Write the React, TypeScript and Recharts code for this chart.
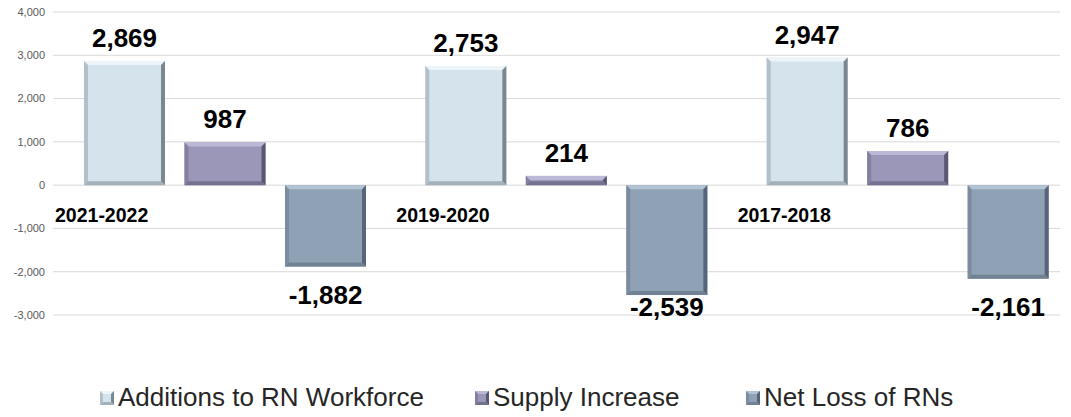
import React from 'react';
import { BarChart, Bar, XAxis, YAxis, CartesianGrid, Legend, LabelList } from 'recharts';

const categories = ['2021-2022', '2019-2020', '2017-2018'];
const additions = [2869, 2753, 2947];
const supplyIncrease = [987, 214, 786];
const netLoss = [-1882, -2539, -2161];
const yTicks = [-3000, -2000, -1000, 0, 1000, 2000, 3000, 4000];
const seriesNames = ['Additions to RN Workforce', 'Supply Increase', 'Net Loss of RNs'];

const data = categories.map((c, i) => ({
  category: c,
  additions: additions[i],
  supply: supplyIncrease[i],
  loss: netLoss[i],
}));

const W = 1071;
const H = 417;
const X_AXIS_H = 1;
const MARGIN = { top: 12, right: 11, bottom: 101, left: 0 };
const Y_AXIS_W = 53;
const Y_MIN = -3000;
const Y_MAX = 4000;
const PLOT_H = H - MARGIN.top - MARGIN.bottom - X_AXIS_H;
const PLOT_W = W - MARGIN.left - MARGIN.right - Y_AXIS_W;
const X_PAD = { left: 1, right: -18 };
const BAND = (PLOT_W - X_PAD.left - X_PAD.right) / categories.length;
const ZERO_Y = MARGIN.top + (Y_MAX / (Y_MAX - Y_MIN)) * PLOT_H;
const PLOT_BOTTOM = MARGIN.top + PLOT_H;
const FONT = '"Liberation Sans", Arial, sans-serif';

type Palette = { fill: string; top: string; left: string; right: string; bottom: string };
const palettes: Palette[] = [
  { fill: '#D5E3EC', top: '#EEF5FA', left: '#B4C0C9', right: '#7A8690', bottom: '#A4B0BA' },
  { fill: '#9A97B8', top: '#BBB8D6', left: '#84819F', right: '#5A5772', bottom: '#74718F' },
  { fill: '#8FA2B5', top: '#B2C3D4', left: '#7A8DA0', right: '#56667A', bottom: '#708294' },
];

const bevelShape = (pal: Palette) => (props: any) => {
  const { x, y, width, height } = props;
  if (width == null || height == null) return null;
  const top = Math.min(y, y + height);
  const h = Math.abs(height);
  const w = width;
  const b = Math.min(4, h / 2, w / 2);
  return (
    <g>
      <rect x={x} y={top} width={w} height={h} fill={pal.fill} />
      <polygon points={`${x},${top} ${x + w},${top} ${x + w - b},${top + b} ${x + b},${top + b}`} fill={pal.top} />
      <polygon points={`${x},${top} ${x + b},${top + b} ${x + b},${top + h - b} ${x},${top + h}`} fill={pal.left} />
      <polygon points={`${x + w},${top} ${x + w},${top + h} ${x + w - b},${top + h - b} ${x + w - b},${top + b}`} fill={pal.right} />
      <polygon points={`${x},${top + h} ${x + b},${top + h - b} ${x + w - b},${top + h - b} ${x + w},${top + h}`} fill={pal.bottom} />
    </g>
  );
};

const valueLabel = (props: any) => {
  const { x, y, width, height, value } = props;
  if (value == null) return null;
  const top = Math.min(y, y + height);
  const bottom = Math.max(y, y + height);
  const cx = x + width / 2;
  const by = value >= 0 ? top - 14 : Math.min(bottom + 37, PLOT_BOTTOM + 1);
  return (
    <text x={cx} y={by} textAnchor="middle" fontFamily={FONT} fontWeight="bold" fontSize={26} fill="#000">
      {Number(value).toLocaleString('en-US')}
    </text>
  );
};

const renderCategoryTick = (props: any) => {
  const { x, payload } = props;
  return (
    <text x={x - BAND / 2 + 1} y={ZERO_Y + 37} textAnchor="start" fontFamily={FONT} fontWeight="bold" fontSize={19.5} fill="#000">
      {payload.value}
    </text>
  );
};

const legendX = [100, 475, 746];

const renderLegend = () => {
  return (
    <svg width={W} height={45} style={{ display: 'block' }}>
      {seriesNames.map((name, i) => {
        const pal = palettes[i];
        const ix = legendX[i];
        const iy = 19;
        const s = 14;
        const b = 3;
        return (
          <g key={name}>
            <rect x={ix} y={iy} width={s} height={s} fill={pal.fill} />
            <polygon points={`${ix},${iy} ${ix + s},${iy} ${ix + s - b},${iy + b} ${ix + b},${iy + b}`} fill={pal.top} />
            <polygon points={`${ix},${iy} ${ix + b},${iy + b} ${ix + b},${iy + s - b} ${ix},${iy + s}`} fill={pal.left} />
            <polygon points={`${ix + s},${iy} ${ix + s},${iy + s} ${ix + s - b},${iy + s - b} ${ix + s - b},${iy + b}`} fill={pal.right} />
            <polygon points={`${ix},${iy + s} ${ix + b},${iy + s - b} ${ix + s - b},${iy + s - b} ${ix + s},${iy + s}`} fill={pal.bottom} />
            <text x={ix + 18} y={34} fontFamily={FONT} fontSize={26} fill="#262626">
              {name}
            </text>
          </g>
        );
      })}
    </svg>
  );
};

export default function App() {
  return (
    <div style={{ position: 'absolute', left: 0, top: 0, width: W, height: H, background: '#fff' }}>
      <BarChart width={W} height={H} data={data} margin={MARGIN} barSize={81} barGap={19.5}>
        <CartesianGrid vertical={false} stroke="#D9D9D9" strokeWidth={1} />
        <XAxis
          dataKey="category"
          height={X_AXIS_H}
          axisLine={false}
          tickLine={false}
          padding={X_PAD}
          tick={renderCategoryTick}
          interval={0}
        />
        <YAxis
          width={Y_AXIS_W}
          domain={[Y_MIN, Y_MAX]}
          ticks={yTicks}
          axisLine={false}
          tickLine={false}
          tick={{ fontFamily: FONT, fontSize: 11, fill: '#595959' }}
          tickFormatter={(v: number) => v.toLocaleString('en-US')}
        />
        <Legend
          layout="horizontal"
          verticalAlign="middle"
          align="center"
          wrapperStyle={{ top: 372, left: 0, width: W }}
          content={renderLegend}
        />
        <Bar dataKey="additions" name={seriesNames[0]} fill={palettes[0].fill} shape={bevelShape(palettes[0])} isAnimationActive={false}>
          <LabelList dataKey="additions" content={valueLabel} />
        </Bar>
        <Bar dataKey="supply" name={seriesNames[1]} fill={palettes[1].fill} shape={bevelShape(palettes[1])} isAnimationActive={false}>
          <LabelList dataKey="supply" content={valueLabel} />
        </Bar>
        <Bar dataKey="loss" name={seriesNames[2]} fill={palettes[2].fill} shape={bevelShape(palettes[2])} isAnimationActive={false}>
          <LabelList dataKey="loss" content={valueLabel} />
        </Bar>
      </BarChart>
    </div>
  );
}
